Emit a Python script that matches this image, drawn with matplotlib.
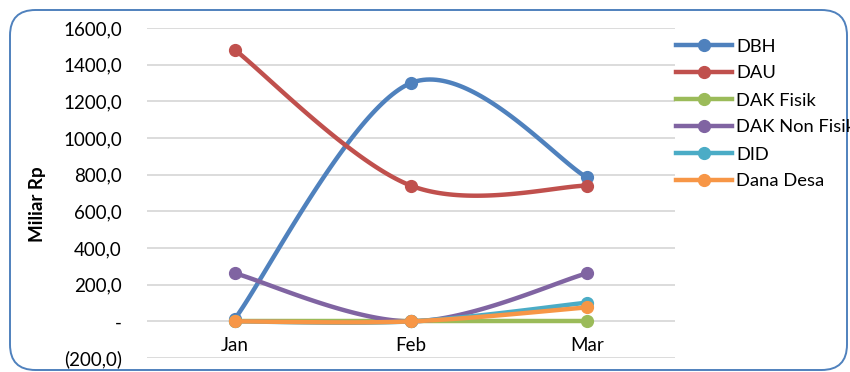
import numpy as np
import matplotlib.pyplot as plt
from matplotlib.patches import FancyBboxPatch
from matplotlib.ticker import FuncFormatter

plt.rcParams['font.family'] = ['Lato', 'DejaVu Sans']

months = ['Jan', 'Feb', 'Mar']
dbh = [15.0, 1300.0, 785.0]
dau = [1480.0, 740.0, 740.0]
dak_fisik = [0.0, 0.0, 0.0]
dak_non_fisik = [262.0, 0.0, 262.0]
did = [0.0, 0.0, 102.0]
dana_desa = [0.0, 0.0, 76.0]

series = [
    ('DBH', dbh, '#4F81BD'),
    ('DAU', dau, '#C0504D'),
    ('DAK Fisik', dak_fisik, '#9BBB59'),
    ('DAK Non Fisik', dak_non_fisik, '#8064A2'),
    ('DID', did, '#4BACC6'),
    ('Dana Desa', dana_desa, '#F79646'),
]


def smooth(xs, ys, n=60):
    # bezier through the points, control points like a catmull-rom spline
    pts = np.column_stack([xs, ys]).astype(float)
    out = []
    for i in range(len(pts) - 1):
        p0 = pts[max(i - 1, 0)]
        p1 = pts[i]
        p2 = pts[i + 1]
        p3 = pts[min(i + 2, len(pts) - 1)]
        c1 = p1 + (p2 - p0) / 6
        c2 = p2 - (p3 - p1) / 6
        t = np.linspace(0, 1, n)[:, None]
        seg = ((1 - t) ** 3) * p1 + 3 * t * (1 - t) ** 2 * c1 + 3 * t ** 2 * (1 - t) * c2 + t ** 3 * p2
        out.append(seg if i == 0 else seg[1:])
    out = np.vstack(out)
    return out[:, 0], out[:, 1]


W, H = 850, 372
fs = 13.5
fig = plt.figure(figsize=(W / 100, H / 100), dpi=100)

frame = FancyBboxPatch((10 / W, 1 - 370 / H), 837 / W, 360 / H,
                       boxstyle='round,pad=0,rounding_size=0.03',
                       transform=fig.transFigure, facecolor='none',
                       edgecolor='#4F81BD', linewidth=1.4, mutation_aspect=W / H)
fig.patches.append(frame)

ax = fig.add_axes([147 / W, 1 - 358 / H, (675 - 147) / W, (358 - 28) / H])
x = np.arange(len(months))

handles = []
for name, vals, color in series:
    sx, sy = smooth(x, vals)
    ax.plot(sx, sy, color=color, lw=3.2, solid_capstyle='round', zorder=3)
    ax.plot(x, vals, 'o', color=color, ms=8.5, zorder=3)
    h, = ax.plot([], [], color=color, lw=3.2, marker='o', ms=8.5)
    handles.append(h)

ax.set_xlim(-0.5, 2.5)
ax.set_ylim(-200, 1600)
ax.set_yticks(np.arange(-200, 1601, 200))
ax.yaxis.set_major_formatter(FuncFormatter(
    lambda v, p: '-' if v == 0 else (f'({abs(v):.1f})' if v < 0 else f'{v:.1f}').replace('.', ',')))
ax.grid(axis='y', color='#D9D9D9', lw=1.3)
ax.set_axisbelow(True)
for s in ax.spines.values():
    s.set_visible(False)
ax.spines['bottom'].set_position(('data', 0))
ax.set_xticks(x)
ax.set_xticklabels(months)
ax.tick_params(axis='x', length=0, pad=11, labelsize=fs)
ax.tick_params(axis='y', length=0, pad=18, labelsize=fs)

fig.text(37 / W, 1 - 204 / H, 'Miliar Rp', rotation=90, fontsize=fs,
         fontweight='bold', ha='center', va='center')

fig.legend(handles, [s[0] for s in series], loc='upper left',
           bbox_to_anchor=(676 / W, 1 - 38.5 / H), bbox_transform=fig.transFigure,
           frameon=False, fontsize=13.2, handlelength=3.05, handletextpad=0.25,
           labelspacing=0.6, borderpad=0, borderaxespad=0)

fig.savefig('out.png', dpi=100)
